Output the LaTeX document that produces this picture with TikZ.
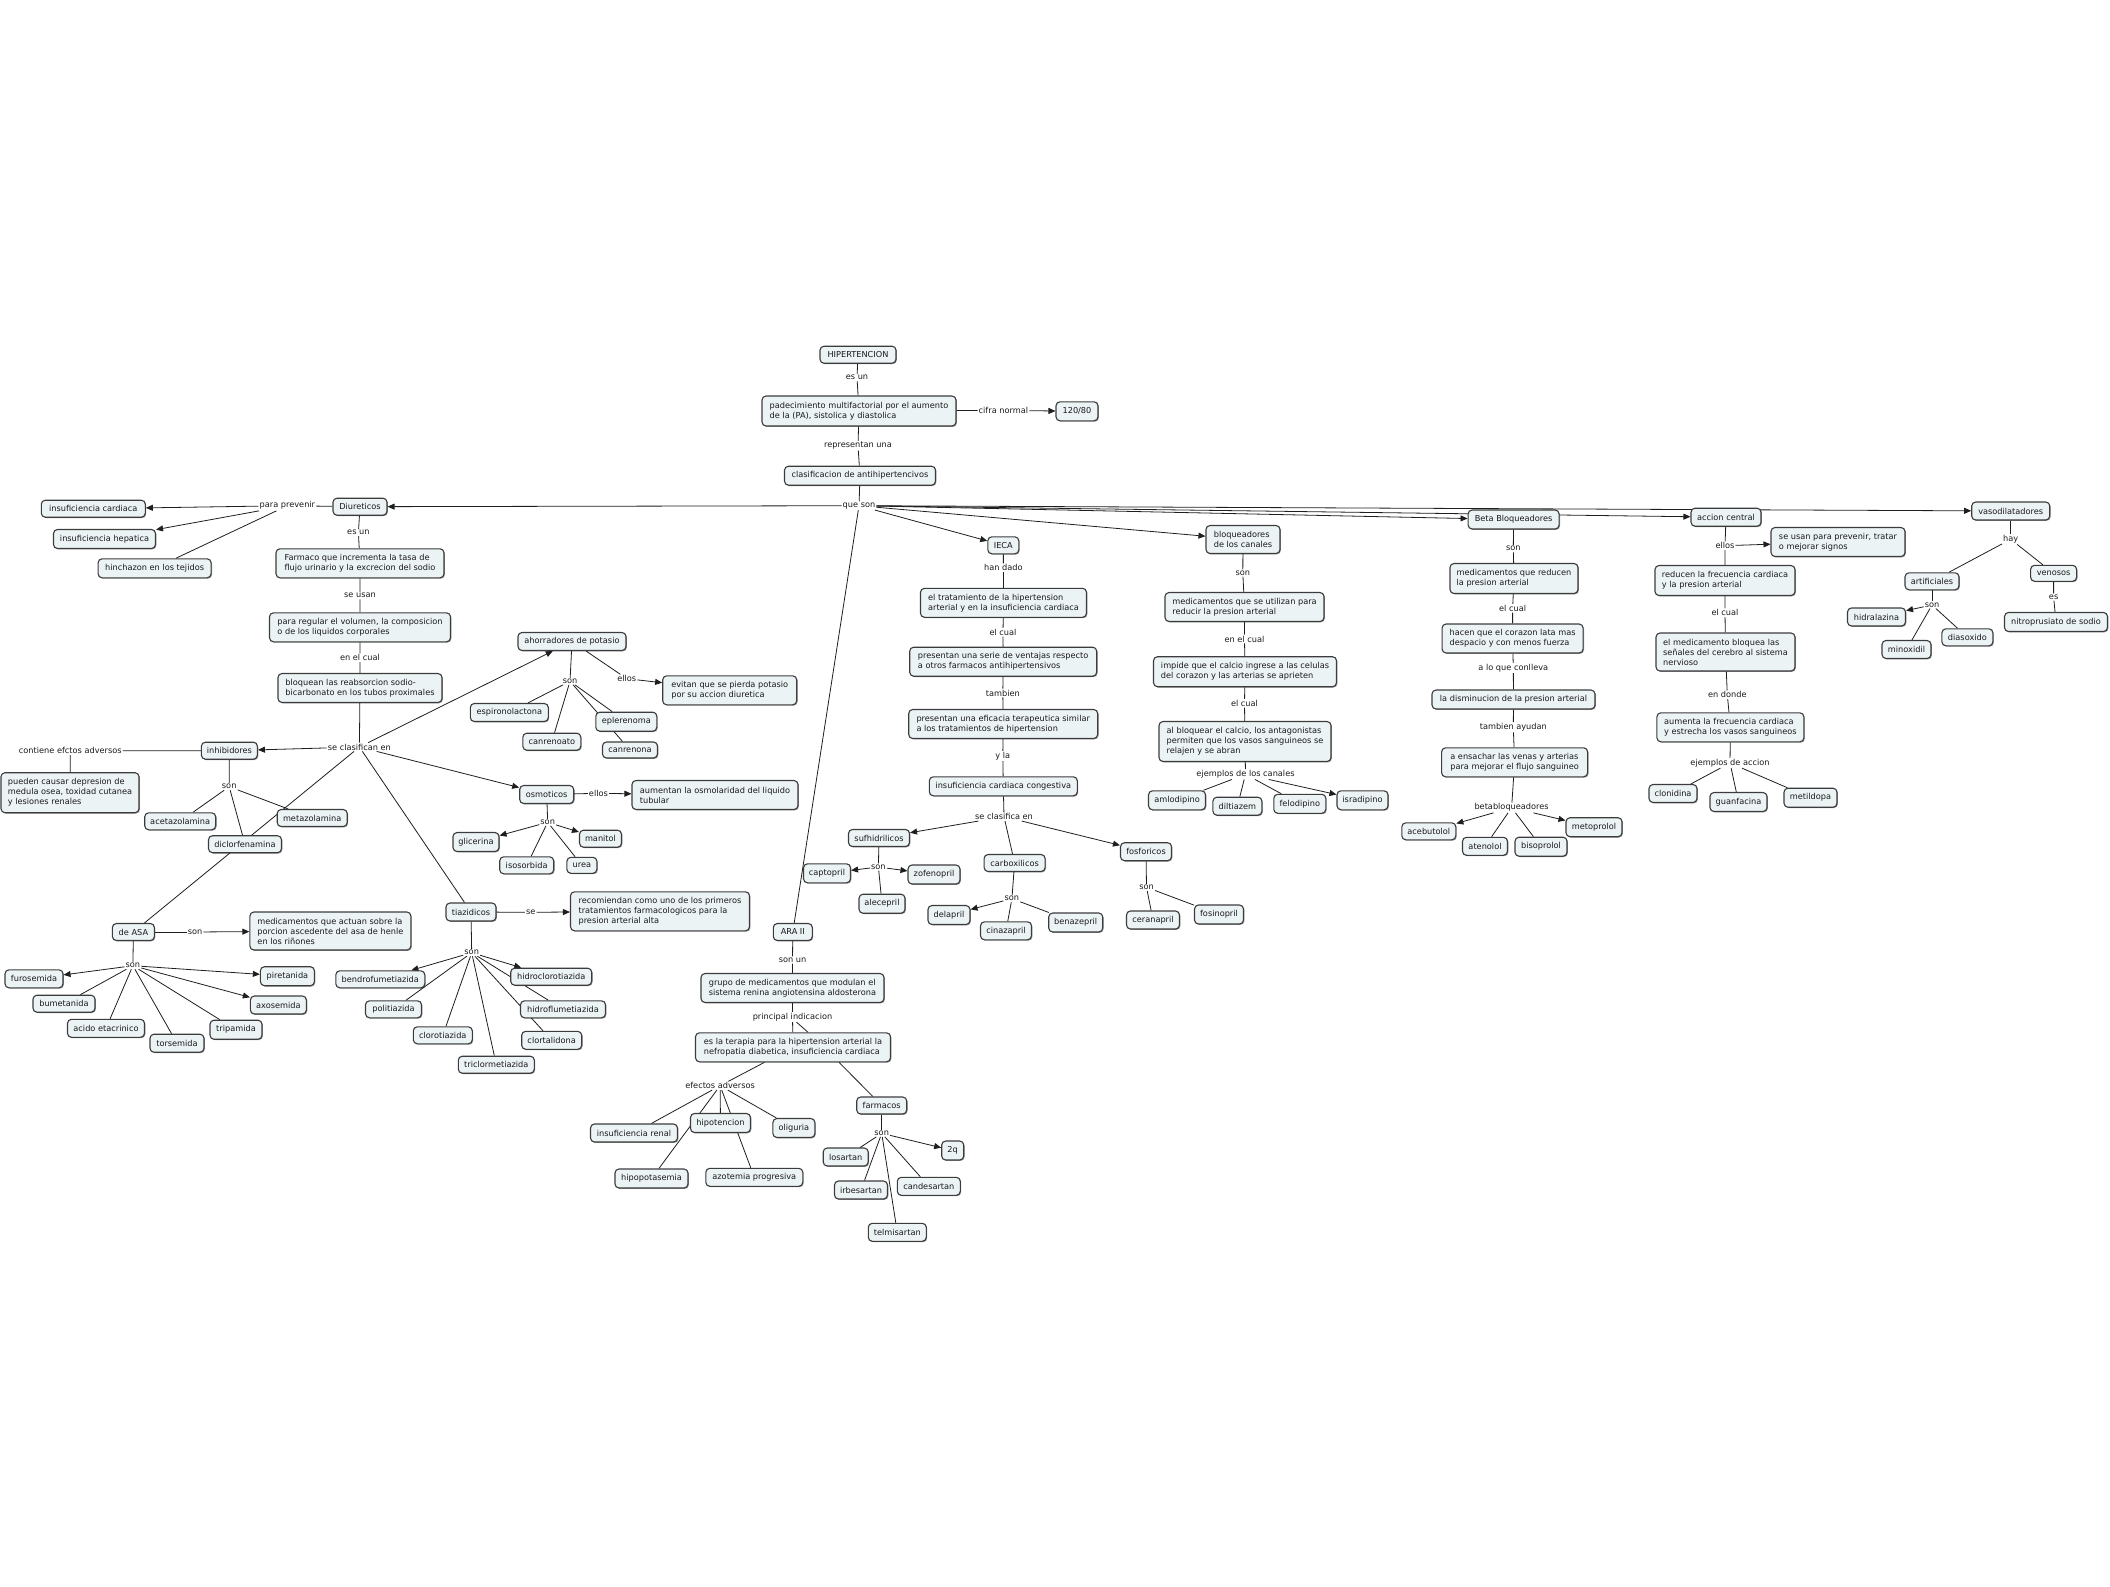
\documentclass[tikz,border=0pt]{standalone}
\usepackage{fontspec}
\setmainfont{DejaVu Sans}
\usetikzlibrary{arrows.meta,backgrounds,shadows}
\definecolor{boxfill}{RGB}{236,243,245}
\definecolor{boxline}{RGB}{60,60,60}
\definecolor{linec}{RGB}{30,30,30}
\definecolor{txt}{RGB}{25,25,25}
\newcommand{\mfs}{\fontsize{8.2}{10}\selectfont}
\tikzset{
 cbox/.style={draw=boxline, line width=1.1pt, rounded corners=4pt, fill=boxfill, inner sep=1pt, font=\mfs, text=txt, align=left, drop shadow={shadow xshift=0.9pt, shadow yshift=-0.9pt, opacity=0.4, fill=black}},
 clab/.style={font=\mfs, text=txt, inner sep=1pt},
 cl/.style={draw=linec, line width=0.8pt},
 ca/.style={cl, -{Triangle[length=7pt,width=6pt]}},
}
\newcommand{\mybox}[6]{\node[cbox,minimum width=#4pt,minimum height=#5pt] (#1) at (#2,#3) {#6};}
\newcommand{\mylab}[4]{\node[clab] (#1) at (#2,#3) {#4};}
\begin{document}
\begin{tikzpicture}[x=1pt,y=-1pt]
\useasboundingbox (0,0) rectangle (2110,1587);
% ---------- top
\mybox{hip}{858}{354.7}{76}{17}{HIPERTENCION}
\mybox{pad}{859}{411}{194}{30}{padecimiento multifactorial por el aumento\\de la (PA), sistolica y diastolica}
\mybox{nct}{1077}{411.3}{42}{19}{120/80}
\mybox{clas}{860}{475.7}{151}{19}{clasificacion de antihipertencivos}
\mylab{lEsun}{857}{377.7}{es un}
\mylab{lCifra}{1003.4}{410.3}{cifra normal}
\mylab{lRep}{858}{445.7}{representan una}
\mylab{lQue}{859}{505.7}{que son}
% ---------- diureticos
\mybox{diu}{360}{506.7}{54}{17}{Diureticos}
\mybox{icard}{93.3}{508.7}{104}{17}{insuficiencia cardiaca}
\mybox{ihep}{104.5}{539}{102}{19}{insuficiencia hepatica}
\mybox{hinch}{154.6}{568.3}{113}{19}{hinchazon en los tejidos}
\mylab{lPrev}{287.4}{505.7}{para prevenir}
\mylab{lEsunB}{358.4}{532.7}{es un}
\mybox{farm}{360}{563.3}{168}{29}{Farmaco que incrementa la tasa de\\flujo urinario y la excrecion del sodio}
\mylab{lSeusan}{360}{595.7}{se usan}
\mybox{regul}{360}{627.3}{181}{29}{para regular el volumen, la composicion\\o de los liquidos corporales}
\mylab{lEnelcual}{360}{657.7}{en el cual}
\mybox{bloq}{360}{688}{164}{29}{bloquean las reabsorcion sodio-\\bicarbonato en los tubos proximales}
\mylab{lSecl}{359.4}{747}{se clasifican en}
\mybox{inh}{229.4}{750.7}{56}{17}{inhibidores}
\mylab{lCont}{70.3}{750.7}{contiene efctos adversos}
\mybox{pued}{70}{792.7}{138}{40}{pueden causar depresion de\\medula osea, toxidad cutanea\\y lesiones renales}
\mylab{lSonInh}{229.2}{786.7}{son}
\mybox{acet}{180.2}{821.3}{71}{17}{acetazolamina}
\mybox{meta}{312.2}{818}{70}{17}{metazolamina}
\mybox{dicl}{245}{844.2}{73}{17}{diclorfenamina}
\mybox{asa}{133.4}{932}{42}{17}{de ASA}
\mylab{lSonAsaA}{195}{932}{son}
\mybox{mact}{330.4}{931}{161}{38}{medicamentos que actuan sobre la\\porcion ascedente del asa de henle\\en los riñones}
\mylab{lSonAsaB}{132.9}{965.7}{son}
\mybox{furo}{34}{978.8}{58}{18}{furosemida}
\mybox{bume}{64}{1003.7}{62}{17}{bumetanida}
\mybox{acid}{106}{1028.3}{77}{18}{acido etacrinico}
\mybox{tors}{177}{1043.2}{54}{18}{torsemida}
\mybox{trip}{236}{1029.7}{52}{19}{tripamida}
\mybox{axos}{278.4}{1005}{56}{18}{axosemida}
\mybox{pire}{287.4}{976.2}{54}{19}{piretanida}
\mybox{ahor}{572}{641.5}{108}{18}{ahorradores de potasio}
\mylab{lSonAh}{570}{681.3}{son}
\mylab{lEllosA}{626.8}{678.7}{ellos}
\mybox{evit}{729.7}{690.3}{134}{29}{evitan que se pierda potasio\\por su accion diuretica}
\mybox{espi}{509.3}{712.5}{78}{18}{espironolactona}
\mybox{eple}{626.3}{721.7}{61}{19}{eplerenoma}
\mybox{canrA}{551.8}{741.7}{58}{17}{canrenoato}
\mybox{canrB}{630}{750}{55}{16}{canrenona}
\mybox{osmo}{546.7}{794.5}{54}{18}{osmoticos}
\mylab{lEllosB}{598.4}{793.3}{ellos}
\mybox{aume}{715}{795}{166}{29}{aumentan la osmolaridad del liquido\\tubular}
\mylab{lSonOsm}{547.7}{822.3}{son}
\mybox{mani}{600.5}{838.7}{42}{17}{manitol}
\mybox{glic}{476}{842}{46}{19}{glicerina}
\mybox{isos}{526.7}{865.3}{54}{17}{isosorbida}
\mybox{urea}{581.9}{865.3}{30}{16}{urea}
\mybox{tiaz}{471}{912}{50}{18}{tiazidicos}
\mylab{lSe}{530.7}{912.3}{se}
\mybox{reco}{660}{911.3}{179}{39}{recomiendan como uno de los primeros\\tratamientos farmacologicos para la\\presion arterial alta}
\mylab{lSonTz}{471.7}{952.7}{son}
\mybox{bend}{380.3}{979.3}{89}{17}{bendrofumetiazida}
\mybox{poli}{393.5}{1009.3}{56}{17}{politiazida}
\mybox{clot}{442.8}{1035.3}{59}{17}{clorotiazida}
\mybox{tric}{496.3}{1064.7}{76}{17}{triclormetiazida}
\mybox{hcl}{551.2}{976.7}{81}{17}{hidroclorotiazida}
\mybox{hfl}{563}{1009.3}{85}{17}{hidroflumetiazida}
\mybox{clor}{551.7}{1040.3}{60}{18}{clortalidona}
% ---------- ARA II
\mybox{ara}{792.8}{932}{39}{17}{ARA II}
\mylab{lSonun}{792.5}{960}{son un}
\mybox{grup}{792.5}{988}{183}{29}{grupo de medicamentos que modulan el\\sistema renina angiotensina aldosterona}
\mylab{lPi}{792.5}{1017}{principal indicacion}
\mybox{tera}{793}{1047.3}{195}{29}{es la terapia para la hipertension arterial la\\nefropatia diabetica, insuficiencia cardiaca}
\mylab{lEf}{720.1}{1085.7}{efectos adversos}
\mybox{irenal}{634}{1133}{87}{18}{insuficiencia renal}
\mybox{hipot}{720.5}{1123}{60}{19}{hipotencion}
\mybox{olig}{793.9}{1128}{42}{19}{oliguria}
\mybox{hipop}{651.5}{1178.5}{73}{19}{hipopotasemia}
\mybox{azot}{754.3}{1177.3}{97}{18}{azotemia progresiva}
\mybox{farmc}{881.7}{1105.5}{50}{17}{farmacos}
\mylab{lSonF}{881.7}{1133.3}{son}
\mybox{losa}{845.7}{1157}{45}{18}{losartan}
\mybox{qdos}{952.7}{1150.5}{22}{19}{2q}
\mybox{irbe}{861}{1190}{53}{18}{irbesartan}
\mybox{cand}{928.8}{1186.3}{63}{18}{candesartan}
\mybox{telm}{897.3}{1232.3}{58}{18}{telmisartan}
% ---------- IECA
\mybox{ieca}{1003.3}{545.3}{31}{17}{IECA}
\mylab{lHan}{1003.4}{567.7}{han dado}
\mybox{trat}{1003.5}{602.8}{166}{29}{el tratamiento de la hipertension\\arterial y en la insuficiencia cardiaca}
\mylab{lElcA}{1003}{632.3}{el cual}
\mybox{seri}{1003.2}{661.7}{187}{29}{presentan una serie de ventajas respecto\\a otros farmacos antihipertensivos}
\mylab{lTamb}{1002.8}{693}{tambien}
\mybox{efic}{1003.2}{724}{189}{29}{presentan una eficacia terapeutica similar\\a los tratamientos de hipertension}
\mylab{lYla}{1002.8}{756}{y la}
\mybox{icc}{1003.3}{786.3}{148}{19}{insuficiencia cardiaca congestiva}
\mylab{lScla}{1004}{816.7}{se clasifica en}
\mybox{sufh}{879}{838}{61}{17}{sufhidrilicos}
\mylab{lSonSu}{878.4}{867}{son}
\mybox{capt}{827}{873.3}{47}{19}{captopril}
\mybox{zofe}{934}{874.5}{52}{19}{zofenopril}
\mybox{alec}{882}{903.7}{46}{19}{alecepril}
\mybox{carb}{1014.6}{863}{61}{17}{carboxilicos}
\mylab{lSonCa}{1011.9}{898.7}{son}
\mybox{dela}{949}{915}{42}{19}{delapril}
\mybox{cina}{1006}{930.8}{51}{18}{cinazapril}
\mybox{bena}{1075.7}{922.5}{54}{19}{benazepril}
\mybox{fosf}{1146}{851.7}{51}{18}{fosforicos}
\mylab{lSonFo}{1146.5}{887.3}{son}
\mybox{cera}{1153}{920}{53}{18}{ceranapril}
\mybox{fosi}{1219}{914.5}{49}{19}{fosinopril}
% ---------- bloqueadores canales
\mybox{bcan}{1243}{539.5}{74}{28}{bloqueadores\\de los canales}
\mylab{lSonBc}{1242.8}{573}{son}
\mybox{mutil}{1244.5}{607}{159}{29}{medicamentos que se utilizan para\\reducir la presion arterial}
\mylab{lEnelc}{1244.5}{639}{en el cual}
\mybox{impi}{1245}{671.7}{183}{30}{impide que el calcio ingrese a las celulas\\del corazon y las arterias se aprieten}
\mylab{lElcB}{1244.5}{703.3}{el cual}
\mybox{albl}{1245}{741.5}{172}{40}{al bloquear el calcio, los antagonistas\\permiten que los vasos sanguineos se\\relajen y se abran}
\mylab{lEjc}{1245.5}{774.3}{ejemplos de los canales}
\mybox{amlo}{1177}{800.3}{57}{19}{amlodipino}
\mybox{dilt}{1237.4}{806.2}{49}{18}{diltiazem}
\mybox{felo}{1299.8}{803.8}{52}{19}{felodipino}
\mybox{isra}{1362.5}{800.3}{51}{19}{isradipino}
% ---------- beta
\mybox{beta}{1513.6}{519.5}{91}{19}{Beta Bloqueadores}
\mylab{lSonB}{1513.3}{548.7}{son}
\mybox{mred}{1514}{578.5}{128}{30}{medicamentos que reducen\\la presion arterial}
\mylab{lElcC}{1512.6}{608.3}{el cual}
\mybox{hace}{1512.6}{638.5}{141}{29}{hacen que el corazon lata mas\\despacio y con menos fuerza}
\mylab{lAlo}{1513.3}{668}{a lo que conlleva}
\mybox{dism}{1513.5}{699.5}{163}{19}{la disminucion de la presion arterial}
\mylab{lTay}{1513.3}{727.3}{tambien ayudan}
\mybox{ensa}{1514.6}{762.3}{146}{29}{a ensachar las venas y arterias\\para mejorar el flujo sanguineo}
\mylab{lBb}{1511.6}{807.7}{betabloqueadores}
\mybox{aceb}{1428.8}{831.3}{54}{17}{acebutolol}
\mybox{aten}{1485}{846.3}{45}{18}{atenolol}
\mybox{biso}{1541}{846.7}{52}{19}{bisoprolol}
\mybox{meto}{1594}{827.2}{56}{19}{metoprolol}
% ---------- accion central
\mybox{acc}{1726}{517.2}{70}{18}{accion central}
\mylab{lEllAc}{1725}{545.7}{ellos}
\mybox{seus}{1838}{542}{134}{29}{se usan para prevenir, tratar\\o mejorar signos}
\mybox{redf}{1725}{580.5}{140}{30}{reducen la frecuencia cardiaca\\y la presion arterial}
\mylab{lElcD}{1725}{612.7}{el cual}
\mybox{medb}{1725.5}{652}{139}{38}{el medicamento bloquea las\\señales del cerebro al sistema\\nervioso}
\mylab{lEndon}{1727.3}{694.7}{en donde}
\mybox{aumf}{1730.4}{727.3}{147}{29}{aumenta la frecuencia cardiaca\\y estrecha los vasos sanguineos}
\mylab{lEja}{1730}{763}{ejemplos de accion}
\mybox{clon}{1673}{793.5}{48}{18}{clonidina}
\mybox{guan}{1738.5}{802}{57}{19}{guanfacina}
\mybox{metil}{1810.5}{797.7}{53}{19}{metildopa}
% ---------- vasodilatadores
\mybox{vaso}{2010.7}{511}{78}{18}{vasodilatadores}
\mylab{lHay}{2010.7}{539.3}{hay}
\mybox{arti}{1932}{581.3}{54}{17}{artificiales}
\mybox{veno}{2053.6}{573.3}{46}{16}{venosos}
\mylab{lEs}{2053.6}{597}{es}
\mybox{nitr}{2056}{622}{103}{19}{nitroprusiato de sodio}
\mylab{lSonArt}{1932}{605}{son}
\mybox{hidr}{1876.5}{617}{58}{18}{hidralazina}
\mybox{diaso}{1967.4}{637.3}{51}{17}{diasoxido}
\mybox{mino}{1906.5}{649.5}{49}{18}{minoxidil}
% ================= edges
\begin{scope}[on background layer]
\draw[cl] (hip) -- (lEsun) -- (pad);
\draw[cl] (pad) -- (lCifra); \draw[ca] (lCifra) -- (nct);
\draw[cl] (pad) -- (lRep) -- (clas);
\draw[cl] (clas) -- (lQue);
\draw[ca] (lQue) -- (diu);
\draw[ca] (lQue) -- (ieca);
\draw[ca] (lQue) -- (bcan);
\draw[ca] (lQue) -- (beta);
\draw[ca] (lQue) -- (acc);
\draw[ca] (lQue) -- (vaso);
\draw[cl] (lQue) -- (ara);
% diureticos
\draw[cl] (diu) -- (lPrev);
\draw[ca] (lPrev) -- (icard);
\draw[ca] (lPrev) -- (ihep);
\draw[cl] (lPrev) -- (hinch);
\draw[cl] (diu) -- (lEsunB) -- (farm) -- (lSeusan) -- (regul) -- (lEnelcual) -- (bloq) -- (lSecl);
\draw[ca] (lSecl) -- (inh);
\draw[ca] (lSecl) -- (ahor);
\draw[ca] (lSecl) -- (osmo);
\draw[cl] (lSecl) -- (tiaz);
\draw[cl] (lSecl) -- (asa);
\draw[cl] (inh) -- (lCont) -- (pued);
\draw[cl] (inh) -- (lSonInh);
\draw[cl] (lSonInh) -- (acet);
\draw[cl] (lSonInh) -- (meta);
\draw[cl] (lSonInh) -- (dicl);
\draw[cl] (asa) -- (lSonAsaA); \draw[ca] (lSonAsaA) -- (mact);
\draw[cl] (asa) -- (lSonAsaB);
\draw[ca] (lSonAsaB) -- (furo);
\draw[cl] (lSonAsaB) -- (bume);
\draw[cl] (lSonAsaB) -- (acid);
\draw[cl] (lSonAsaB) -- (tors);
\draw[cl] (lSonAsaB) -- (trip);
\draw[ca] (lSonAsaB) -- (axos);
\draw[ca] (lSonAsaB) -- (pire);
\draw[cl] (ahor) -- (lSonAh);
\draw[cl] (lSonAh) -- (espi);
\draw[cl] (lSonAh) -- (canrA);
\draw[cl] (lSonAh) -- (eple);
\draw[cl] (lSonAh) -- (canrB);
\draw[cl] (ahor) -- (lEllosA); \draw[ca] (lEllosA) -- (evit);
\draw[cl] (osmo) -- (lEllosB); \draw[ca] (lEllosB) -- (aume);
\draw[cl] (osmo) -- (lSonOsm);
\draw[ca] (lSonOsm) -- (glic);
\draw[ca] (lSonOsm) -- (mani);
\draw[cl] (lSonOsm) -- (isos);
\draw[cl] (lSonOsm) -- (urea);
\draw[cl] (tiaz) -- (lSe); \draw[ca] (lSe) -- (reco);
\draw[cl] (tiaz) -- (lSonTz);
\draw[ca] (lSonTz) -- (bend);
\draw[cl] (lSonTz) -- (poli);
\draw[cl] (lSonTz) -- (clot);
\draw[cl] (lSonTz) -- (tric);
\draw[ca] (lSonTz) -- (hcl);
\draw[cl] (lSonTz) -- (hfl);
\draw[cl] (lSonTz) -- (clor);
% ARA II
\draw[cl] (ara) -- (lSonun) -- (grup) -- (lPi) -- (tera);
\draw[cl] ([xshift=4pt]lPi.south) -- ([xshift=15pt]tera.north);
\draw[cl] (tera) -- (lEf);
\draw[cl] (lEf) -- (irenal);
\draw[cl] (lEf) -- (hipot);
\draw[cl] (lEf) -- (hipop);
\draw[cl] (lEf) -- (azot);
\draw[cl] (lEf) -- (olig);
\draw[cl] ([xshift=-52pt]tera.south east) -- (farmc);
\draw[cl] (farmc) -- (lSonF);
\draw[cl] (lSonF) -- (losa);
\draw[cl] (lSonF) -- (irbe);
\draw[cl] (lSonF) -- (telm);
\draw[cl] (lSonF) -- (cand);
\draw[ca] (lSonF) -- (qdos);
% IECA
\draw[cl] (ieca) -- (lHan) -- (trat) -- (lElcA) -- (seri) -- (lTamb) -- (efic) -- (lYla) -- (icc) -- (lScla);
\draw[ca] (lScla) -- (sufh);
\draw[cl] (lScla) -- (carb);
\draw[ca] (lScla) -- (fosf);
\draw[cl] (sufh) -- (lSonSu);
\draw[ca] (lSonSu) -- (capt);
\draw[ca] (lSonSu) -- (zofe);
\draw[cl] (lSonSu) -- (alec);
\draw[cl] (carb) -- (lSonCa);
\draw[ca] (lSonCa) -- (dela);
\draw[cl] (lSonCa) -- (cina);
\draw[cl] (lSonCa) -- (bena);
\draw[cl] (fosf) -- (lSonFo);
\draw[cl] (lSonFo) -- (cera);
\draw[cl] (lSonFo) -- (fosi);
% bloqueadores canales
\draw[cl] (bcan) -- (lSonBc) -- (mutil) -- (lEnelc) -- (impi) -- (lElcB) -- (albl) -- (lEjc);
\draw[cl] (lEjc) -- (amlo);
\draw[cl] (lEjc) -- (dilt);
\draw[cl] (lEjc) -- (felo);
\draw[ca] (lEjc) -- (isra);
% beta
\draw[cl] (beta) -- (lSonB) -- (mred) -- (lElcC) -- (hace) -- (lAlo) -- (dism) -- (lTay) -- (ensa) -- (lBb);
\draw[ca] (lBb) -- (aceb);
\draw[cl] (lBb) -- (aten);
\draw[cl] (lBb) -- (biso);
\draw[ca] (lBb) -- (meto);
% accion central
\draw[cl] (acc) -- (lEllAc); \draw[ca] (lEllAc) -- (seus);
\draw[cl] (lEllAc) -- (redf) -- (lElcD) -- (medb) -- (lEndon) -- (aumf) -- (lEja);
\draw[cl] (lEja) -- (clon);
\draw[cl] (lEja) -- (guan);
\draw[cl] (lEja) -- (metil);
% vasodilatadores
\draw[cl] (vaso) -- (lHay);
\draw[cl] (lHay) -- (arti);
\draw[cl] (lHay) -- (veno);
\draw[cl] (veno) -- (lEs) -- (nitr);
\draw[cl] (arti) -- (lSonArt);
\draw[ca] (lSonArt) -- (hidr);
\draw[cl] (lSonArt) -- (mino);
\draw[cl] (lSonArt) -- (diaso);
\end{scope}
\end{tikzpicture}
\end{document}
